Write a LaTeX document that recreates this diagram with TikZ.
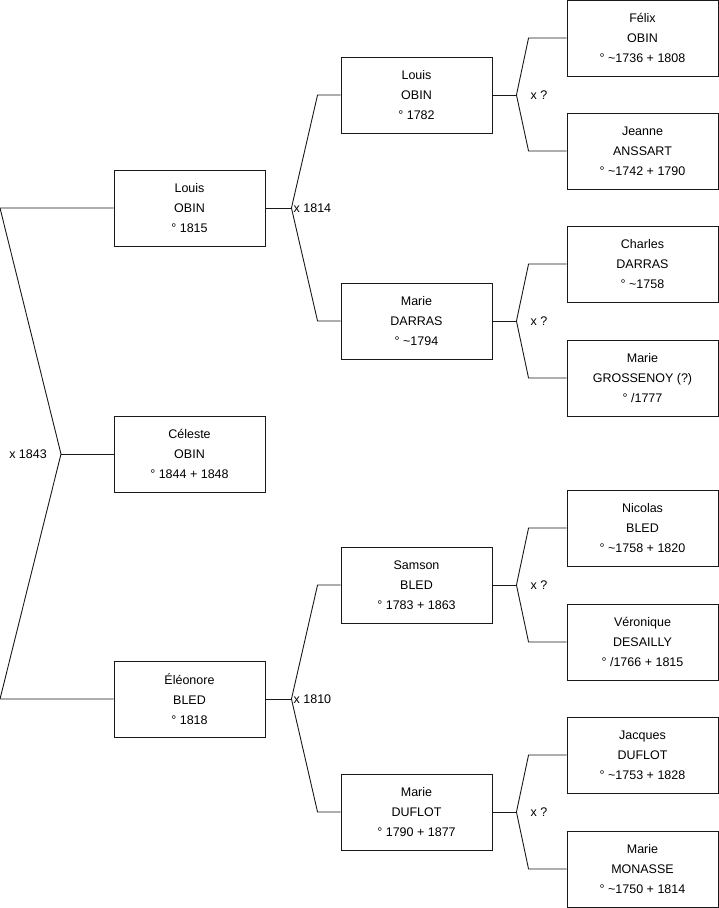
\documentclass[tikz,border=0pt]{standalone}
\usepackage{fontspec}
\setmainfont{Liberation Sans}
\usetikzlibrary{positioning}
\newcommand{\ca}{\textasciitilde}
\tikzset{
	person/.style={draw=black!90,line width=0.9pt,fill=white,minimum width=151pt,minimum height=76pt,
		inner sep=0pt,align=center,font=\fontsize{12.5}{20}\selectfont},
	link/.style={draw=black!90,line width=0.9pt},
	marr/.style={font=\fontsize{12.5}{14}\selectfont,inner sep=2pt},
}
\begin{document}
\begin{tikzpicture}[x=1pt,y=-1pt]
	\useasboundingbox (0,0) rectangle (719,908);
	% generation 1
	\node[person] (louis) at (189.5,208) {Louis\\OBIN\\° 1815};
	\node[person] (celeste) at (189.5,454) {Céleste\\OBIN\\° 1844 + 1848};
	\node[person] (eleonore) at (189.5,699) {Éléonore\\BLED\\° 1818};
	% generation 2
	\node[person] (louisP) at (416.5,95) {Louis\\OBIN\\° 1782};
	\node[person] (marieD) at (416.5,321) {Marie\\DARRAS\\° \ca1794};
	\node[person] (samson) at (416.5,585) {Samson\\BLED\\° 1783 + 1863};
	\node[person] (marieDu) at (416.5,812) {Marie\\DUFLOT\\° 1790 + 1877};
	% generation 3
	\node[person] (felix) at (642.5,38) {Félix\\OBIN\\° \ca1736 + 1808};
	\node[person] (jeanne) at (642.5,151) {Jeanne\\ANSSART\\° \ca1742 + 1790};
	\node[person] (charles) at (642.5,264) {Charles\\DARRAS\\° \ca1758};
	\node[person] (marieG) at (642.5,378) {Marie\\GROSSENOY (?)\\° /1777};
	\node[person] (nicolas) at (642.5,528) {Nicolas\\BLED\\° \ca1758 + 1820};
	\node[person] (veronique) at (642.5,642) {Véronique\\DESAILLY\\° /1766 + 1815};
	\node[person] (jacques) at (642.5,755) {Jacques\\DUFLOT\\° \ca1753 + 1828};
	\node[person] (marieM) at (642.5,869) {Marie\\MONASSE\\° \ca1750 + 1814};
	% couple of the first generation
	\coordinate (v0) at (61,454);
	\draw[link] (louis.west) -- (0,208) -- (v0) -- (0,699) -- (eleonore.west);
	\draw[link] (v0) -- (celeste.west);
	\node[marr,left,xshift=-12pt] (m0) at (v0) {x 1843};
	% parents
	\foreach \p/\a/\b/\s/\h/\o/\lab in {louis/louisP/marieD/26/23/0/x 1814,
		eleonore/samson/marieDu/26/23/0/x 1810,
		louisP/felix/jeanne/24/38/12/x ?,
		marieD/charles/marieG/24/38/12/x ?,
		samson/nicolas/veronique/24/38/12/x ?,
		marieDu/jacques/marieM/24/38/12/x ?}
	{
		\draw[link] (\p.east) -- ++(\s,0) coordinate (v);
		\draw[link] (\a.west) -- ++(-\h,0) -- (v) -- ([xshift=-\h pt]\b.west) -- (\b.west);
		\node[marr,right,xshift=\o pt] (m\p) at (v) {\lab};
	}
\end{tikzpicture}
\end{document}
